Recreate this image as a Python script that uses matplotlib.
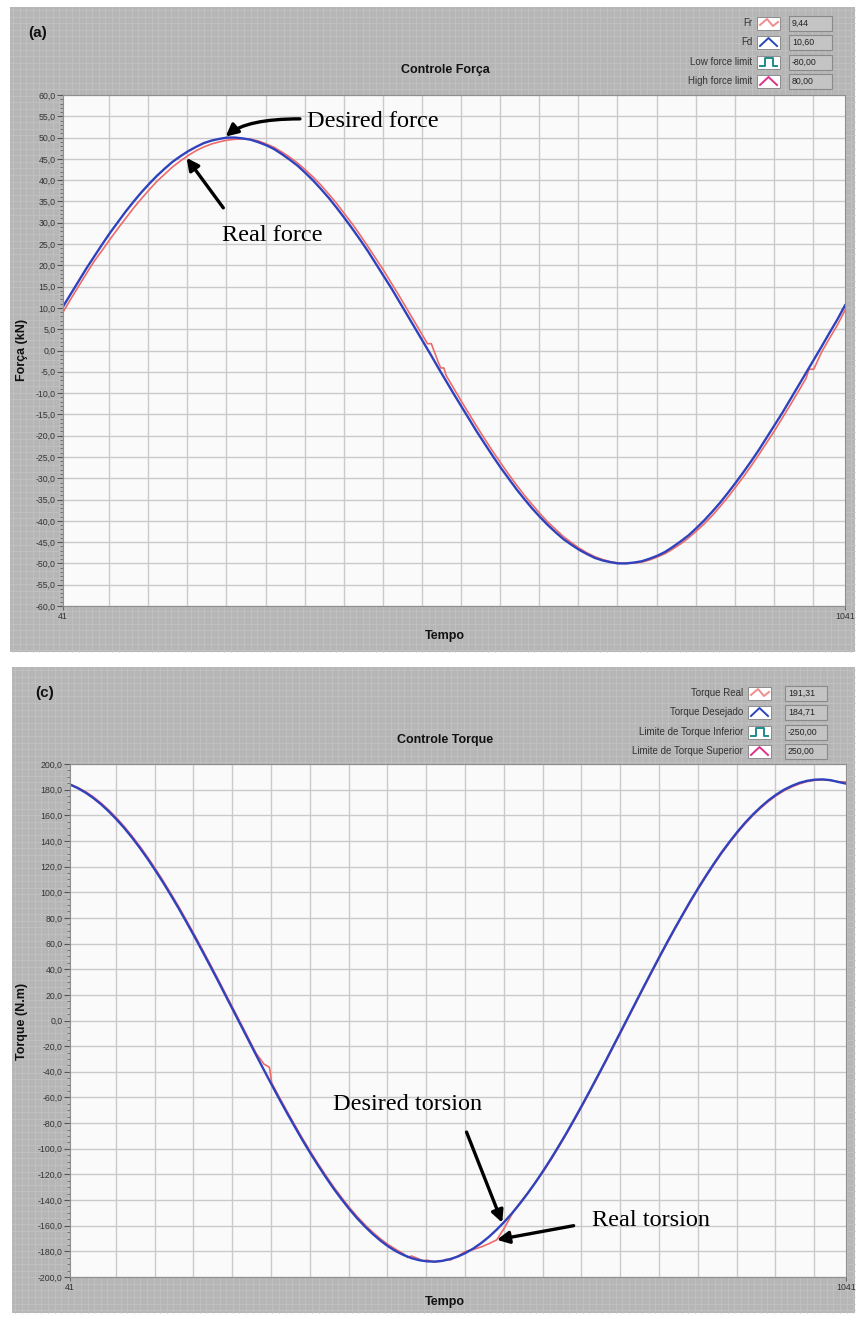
import numpy as np
import matplotlib.pyplot as plt
from matplotlib.patches import Rectangle
from matplotlib.ticker import FuncFormatter, MultipleLocator

# ─── Dados (passo de 10 amostras) ───────────────────────────────────────────

tempo = list(range(41, 1042, 10))

forca_desejada = [10.3, 13.3, 16.3, 19.3, 22.1, 24.9, 27.6, 30.1, 32.6, 34.9,
                  37.1, 39.1, 41.0, 42.7, 44.3, 45.6, 46.8, 47.8, 48.7, 49.3,
                  49.7, 50.0, 50.0, 49.8, 49.5, 48.9, 48.2, 47.3, 46.1, 44.8,
                  43.4, 41.7, 39.9, 37.9, 35.8, 33.5, 31.1, 28.6, 26.0, 23.3,
                  20.4, 17.5, 14.6, 11.5, 8.4, 5.3, 2.2, -0.9, -4.1, -7.2,
                  -10.3, -13.3, -16.3, -19.3, -22.1, -24.9, -27.6, -30.1, -32.6, -34.9,
                  -37.1, -39.1, -41.0, -42.7, -44.3, -45.6, -46.8, -47.8, -48.7, -49.3,
                  -49.7, -50.0, -50.0, -49.8, -49.5, -48.9, -48.2, -47.3, -46.1, -44.8,
                  -43.4, -41.7, -39.9, -37.9, -35.8, -33.5, -31.1, -28.6, -26.0, -23.3,
                  -20.4, -17.5, -14.6, -11.5, -8.4, -5.3, -2.2, 0.9, 4.1, 7.2,
                  10.6]

tempo_fr = (list(range(41, 502, 10)) + [507, 512, 521, 524, 528, 531]
            + list(range(541, 992, 10)) + [995, 1001, 1011, 1021, 1031, 1041])
forca_real = [9.0, 12.1, 15.1, 18.1, 21.0, 23.5, 26.1, 28.6, 31.0, 33.4,
              35.6, 37.7, 39.7, 41.4, 43.1, 44.5, 45.8, 46.9, 47.8, 48.5,
              49.0, 49.4, 49.6, 49.7, 49.6, 49.2, 48.5, 47.7, 46.6, 45.4,
              44.0, 42.4, 40.7, 38.8, 36.7, 34.5, 32.1, 29.7, 27.1, 24.4,
              21.6, 18.8, 15.8, 12.8, 9.7, 6.6, 3.5,
              1.6, 1.6, -2.8, -4.1, -4.1, -5.9,
              -9.0, -12.1, -15.1, -18.1, -21.0, -23.8, -26.5, -29.1, -31.6, -34.0,
              -36.2, -38.3, -40.3, -42.0, -43.7, -45.1, -46.4, -47.5, -48.4, -49.1,
              -49.6, -49.9, -50.0, -49.9, -49.7, -49.2, -48.5, -47.7, -46.6, -45.4,
              -44.0, -42.4, -40.7, -38.8, -36.7, -34.5, -32.1, -29.7, -27.1, -24.4,
              -21.6, -18.8, -15.8, -12.8, -9.7, -6.6,
              -4.4, -4.4, -0.4, 2.8, 5.9, 9.44]

torque_desejado = [184.0, 181.2, 177.7, 173.5, 168.6, 163.0, 156.8, 150.0, 142.6, 134.6,
                   126.1, 117.0, 107.6, 97.7, 87.5, 76.8, 65.9, 54.7, 43.3, 31.8,
                   20.0, 8.3, -3.5, -15.3, -27.1,
                   -38.7, -50.2, -61.5, -72.5, -83.2, -93.7, -103.7, -113.3, -122.5, -131.3,
                   -139.4, -147.1, -154.2, -160.6, -166.4, -171.6, -176.1, -179.9, -182.9, -185.3,
                   -186.9, -187.8, -188.0, -187.4, -186.0, -184.0, -181.2, -177.7, -173.5, -168.6,
                   -163.0, -156.8, -150.0, -142.6, -134.6, -126.1, -117.0, -107.6, -97.7, -87.5,
                   -76.8, -65.9, -54.7, -43.3, -31.8, -20.0, -8.3, 3.5, 15.3, 27.1,
                   38.7, 50.2, 61.5, 72.5, 83.2, 93.7, 103.7, 113.3, 122.5, 131.3,
                   139.4, 147.1, 154.2, 160.6, 166.4, 171.6, 176.1, 179.9, 182.9, 185.3,
                   186.9, 187.8, 188.0, 187.4, 186.0, 184.7]

tempo_tr = (list(range(41, 282, 10)) + [291, 298, 301] + list(range(311, 462, 10))
            + [471, 476, 481, 491, 496, 501, 511, 521, 526, 531, 541]
            + list(range(551, 642, 10)) + list(range(651, 1042, 10)))
torque_real = [184.3, 181.6, 178.5, 174.4, 169.6, 164.1, 158.0, 151.2, 143.8, 135.9,
               127.4, 118.4, 109.0, 99.1, 88.9, 78.2, 67.3, 56.1, 44.7, 33.2,
               21.4, 9.7, -2.1, -13.9, -25.7,
               -34.0, -36.5, -48.8,
               -60.1, -71.1, -81.8, -92.3, -102.3, -111.9, -121.1, -129.9, -138.0, -145.7,
               -152.8, -159.2, -165.0, -170.2, -174.7, -178.5,
               -182.0, -184.8, -183.6, -186.0, -187.6, -186.8, -188.3, -187.6, -186.2, -186.8,
               -183.6,
               -180.0, -178.5, -176.5, -174.0, -171.0, -161.5, -150.5, -142.0, -134.3, -126.0,
               -117.8, -108.4, -98.5, -88.3, -77.6, -66.7, -55.5, -44.1, -32.6, -20.8,
               -9.1, 2.7, 14.5, 26.3, 37.9, 49.4, 60.7, 71.7, 82.4, 92.9,
               102.9, 112.5, 121.7, 130.5, 138.6, 146.3, 153.4, 159.8, 165.6, 170.8,
               175.3, 179.1, 182.1, 184.5, 186.3, 187.3, 187.6, 187.2, 186.2, 186.0]

leg_forca_nomes = ['Fr', 'Fd', 'Low force limit', 'High force limit']
leg_forca_valores = ['9,44', '10,60', '-80,00', '80,00']
leg_torque_nomes = ['Torque Real', 'Torque Desejado', 'Limite de Torque Inferior',
                    'Limite de Torque Superior']
leg_torque_valores = ['191,31', '184,71', '-250,00', '250,00']

cor_real = '#ee6a6a'
cor_desej = '#2f42bd'
cor_icones = ['#f08c8c', '#2b45b8', '#1f8c8c', '#e0308a']

# ─── Figura ──────────────────────────────────────────────────────────────────

W, H = 861, 1317
fig = plt.figure(figsize=(W / 100, H / 100), dpi=100, facecolor='white')

bg = fig.add_axes([0, 0, 1, 1], zorder=-1)
bg.set_xlim(0, W)
bg.set_ylim(H, 0)
bg.axis('off')

# painéis cinza estilo LabVIEW
for (x0, y0, x1, y1) in [(10, 7, 855, 652), (12, 667, 855, 1313)]:
    bg.add_patch(Rectangle((x0, y0), x1 - x0, y1 - y0, fc='#b6b6b6', ec='none', zorder=0))
    for xx in np.arange(x0 + 3, x1, 6.6):
        bg.plot([xx, xx], [y0, y1], color='#c4c4c4', lw=0.5, zorder=1)
    for yy in np.arange(y0 + 3, y1, 6.6):
        bg.plot([x0, x1], [yy, yy], color='#c4c4c4', lw=0.5, zorder=1)


def legenda(linhas_y, x_txt, x_ic, x_v0, x_v1, nomes, valores):
    for i, (y, nome, val) in enumerate(zip(linhas_y, nomes, valores)):
        bg.text(x_txt, y, nome, ha='right', va='center', fontsize=7,
                family='Liberation Sans', color='#333333', zorder=5)
        bg.add_patch(Rectangle((x_ic, y - 6.5), 23, 13, fc='white', ec='#8c8c8c',
                               lw=0.7, zorder=3))
        c = cor_icones[i]
        if i == 0:
            xs, ys = [x_ic + 3, x_ic + 10, x_ic + 16, x_ic + 21], [y + 2, y - 4, y + 3, y - 1]
        elif i == 2:
            xs = [x_ic + 3, x_ic + 8, x_ic + 8, x_ic + 16, x_ic + 16, x_ic + 20]
            ys = [y + 4, y + 4, y - 4, y - 4, y + 4, y + 4]
        else:
            xs, ys = [x_ic + 3, x_ic + 11.5, x_ic + 20], [y + 4, y - 4, y + 4]
        bg.plot(xs, ys, color=c, lw=1.4, zorder=4)
        bg.add_patch(Rectangle((x_v0, y - 7.5), x_v1 - x_v0, 15, fc='#c4c4c4',
                               ec='#8a8a8a', lw=0.8, zorder=3))
        bg.text(x_v0 + 3, y, val, ha='left', va='center', fontsize=6.3,
                family='Liberation Sans', color='#222222', zorder=5)


legenda([23, 42, 62, 81], 752, 757, 789, 832, leg_forca_nomes, leg_forca_valores)
legenda([693, 712, 732, 751], 743, 748, 785, 827, leg_torque_nomes, leg_torque_valores)

txt = dict(family='Liberation Sans', fontweight='bold', color='#111111', zorder=5)
bg.text(38, 33, '(a)', fontsize=11, ha='center', va='center', **txt)
bg.text(445, 70, 'Controle Força', fontsize=9, ha='center', va='center', **txt)
bg.text(22, 350, 'Força (kN)', fontsize=9, rotation=90, ha='center', va='center', **txt)
bg.text(445, 636, 'Tempo', fontsize=9, ha='center', va='center', **txt)

bg.text(45, 693, '(c)', fontsize=11, ha='center', va='center', **txt)
bg.text(445, 740, 'Controle Torque', fontsize=9, ha='center', va='center', **txt)
bg.text(22, 1021, 'Torque (N.m)', fontsize=9, rotation=90, ha='center', va='center', **txt)
bg.text(445, 1302, 'Tempo', fontsize=9, ha='center', va='center', **txt)


def eixo(l, t, r, b):
    return fig.add_axes([l / W, 1 - b / H, (r - l) / W, (b - t) / H])


virgula = FuncFormatter(lambda v, p: f'{v:.1f}'.replace('.', ','))


def estilo(ax, ylim, passo, menor):
    ax.set_facecolor('#fafafa')
    ax.set_xlim(41, 1041)
    ax.set_ylim(*ylim)
    ax.set_xticks([41, 1041])
    ax.set_xticklabels(['41', '1041'])
    ax.set_xticks(np.arange(100, 1001, 50), minor=True)
    ax.yaxis.set_major_locator(MultipleLocator(passo))
    ax.yaxis.set_minor_locator(MultipleLocator(menor))
    ax.yaxis.set_major_formatter(virgula)
    ax.grid(True, which='major', axis='y', color='#cacaca', lw=1.0)
    ax.grid(True, which='minor', axis='x', color='#cacaca', lw=1.0)
    ax.set_axisbelow(True)
    ax.tick_params(axis='y', which='major', length=4, width=0.8, color='#555555',
                   labelsize=6.3, pad=1.5, labelcolor='#333333')
    ax.tick_params(axis='y', which='minor', length=2, width=0.6, color='#666666')
    ax.tick_params(axis='x', which='major', length=3, width=0.6, color='#555555',
                   labelsize=6.3, pad=1, labelcolor='#333333')
    ax.tick_params(axis='x', which='minor', length=0)
    for s in ax.spines.values():
        s.set_color('#8f8f8f')
        s.set_linewidth(0.8)
    for lab in ax.get_xticklabels() + ax.get_yticklabels():
        lab.set_family('Liberation Sans')


serif = dict(family='Liberation Serif', fontsize=17.5, color='black')
seta = dict(arrowstyle='-|>', color='black', lw=2.4, mutation_scale=18,
            shrinkA=0, shrinkB=0)

# ─── Gráfico (a): força ──────────────────────────────────────────────────────

ax1 = eixo(63, 95, 845, 606)
estilo(ax1, (-60, 60), 5, 1)
ax1.plot(tempo_fr, forca_real, color=cor_real, lw=1.2)
ax1.plot(tempo, forca_desejada, color=cor_desej, lw=1.7)

ax1.text(353, 53.7, 'Desired force', ha='left', va='center', **serif)
ax1.annotate('', xy=(249, np.interp(249, tempo, forca_desejada) + 0.3),
             xytext=(344, 54.4),
             arrowprops=dict(seta, connectionstyle='angle3,angleA=0,angleB=40'))
ax1.text(244, 27.1, 'Real force', ha='left', va='center', **serif)
ax1.annotate('', xy=(199, np.interp(199, tempo_fr, forca_real) - 0.3),
             xytext=(246, 33.5), arrowprops=seta)

# ─── Gráfico (c): torque ─────────────────────────────────────────────────────

ax2 = eixo(70, 764, 846, 1277)
estilo(ax2, (-200, 200), 20, 5)
ax2.plot(tempo_tr, torque_real, color=cor_real, lw=1.2)
ax2.plot(tempo, torque_desejado, color=cor_desej, lw=1.7)

ax2.text(380, -65.4, 'Desired torsion', ha='left', va='center', **serif)
ax2.annotate('', xy=(598, np.interp(598, tempo, torque_desejado) + 1),
             xytext=(552, -87), arrowprops=seta)
ax2.text(714, -156, 'Real torsion', ha='left', va='center', **serif)
ax2.annotate('', xy=(591, np.interp(591, tempo_tr, torque_real)),
             xytext=(690, -160), arrowprops=seta)

plt.savefig('out.png', dpi=100, facecolor='white')
